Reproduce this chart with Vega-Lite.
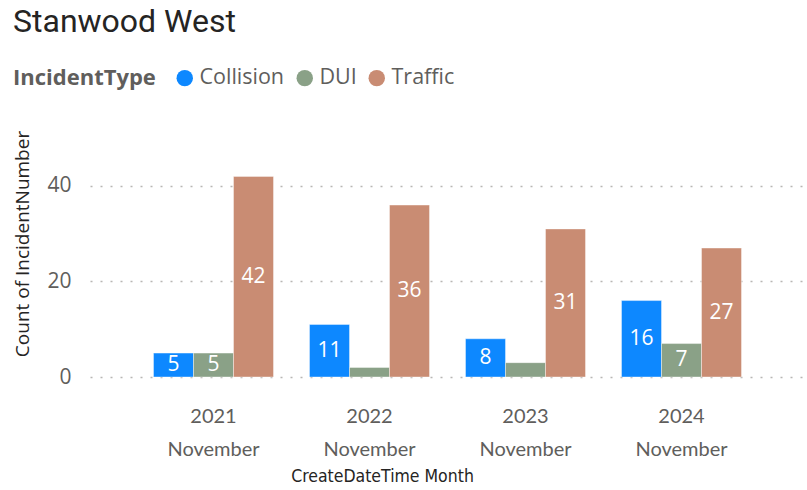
{
  "$schema": "https://vega.github.io/schema/vega-lite/v6.json",
  "width": 715,
  "height": 267,
  "autosize": {"type": "none"},
  "padding": {"left": 90, "top": 110, "right": 2, "bottom": 113},
  "background": "white",
  "title": {
    "text": "Stanwood West",
    "anchor": "start",
    "frame": "group",
    "dx": -77,
    "offset": 28,
    "font": "Roboto",
    "fontSize": 32,
    "fontWeight": "normal",
    "color": "#252423"
  },
  "data": {
    "values": [
      {"month": "2021 November", "type": "Collision", "count": 5},
      {"month": "2021 November", "type": "DUI", "count": 5},
      {"month": "2021 November", "type": "Traffic", "count": 42},
      {"month": "2022 November", "type": "Collision", "count": 11},
      {"month": "2022 November", "type": "DUI", "count": 2},
      {"month": "2022 November", "type": "Traffic", "count": 36},
      {"month": "2023 November", "type": "Collision", "count": 8},
      {"month": "2023 November", "type": "DUI", "count": 3},
      {"month": "2023 November", "type": "Traffic", "count": 31},
      {"month": "2024 November", "type": "Collision", "count": 16},
      {"month": "2024 November", "type": "DUI", "count": 7},
      {"month": "2024 November", "type": "Traffic", "count": 27}
    ]
  },
  "encoding": {
    "x": {
      "field": "month",
      "type": "nominal",
      "sort": null,
      "scale": {"paddingInner": 0.2308, "paddingOuter": 0.407},
      "axis": {
        "labelAngle": 0,
        "labelExpr": "split(datum.label, ' ')",
        "domain": false,
        "ticks": false,
        "labelPadding": 29,
        "labelFont": "Lato",
        "labelFontSize": 20,
        "labelLineHeight": 33,
        "labelColor": "#605E5C",
        "title": "CreateDateTime Month",
        "titleFont": "Liberation Sans Narrow, DejaVu Sans Condensed",
        "titleFontSize": 17.5,
        "titleFontWeight": "normal",
        "titleColor": "#252423",
        "titleX": 292,
        "titlePadding": 8
      }
    },
    "xOffset": {
      "field": "type",
      "type": "nominal",
      "sort": ["Collision", "DUI", "Traffic"],
      "scale": {"paddingInner": 0, "paddingOuter": 0}
    }
  },
  "layer": [
    {
      "mark": {"type": "bar", "stroke": "white", "strokeOpacity": 0.4, "strokeWidth": 1},
      "encoding": {
        "y": {
          "field": "count",
          "type": "quantitative",
          "scale": {"domain": [0, 55.9], "nice": false},
          "axis": {
            "values": [0, 20, 40],
            "grid": true,
            "gridDash": [2, 8],
            "gridColor": "#B8B6B4",
            "gridWidth": 1.5,
            "domain": false,
            "ticks": false,
            "labelPadding": 19,
            "labelFont": "Open Sans",
            "labelFontSize": 21,
            "labelColor": "#605E5C",
            "title": "Count of IncidentNumber",
            "titleFont": "Open Sans",
            "titleFontSize": 19,
            "titleFontWeight": "normal",
            "titleColor": "#252423",
            "titlePadding": 14
          }
        },
        "color": {
          "field": "type",
          "type": "nominal",
          "scale": {
            "domain": ["Collision", "DUI", "Traffic"],
            "range": ["#0D88FF", "#8AA187", "#C98C73"]
          },
          "legend": {
            "orient": "none",
            "legendX": -77,
            "legendY": -43,
            "direction": "horizontal",
            "title": "IncidentType",
            "titleOrient": "left",
            "titleFont": "Open Sans",
            "titleFontSize": 22,
            "titleFontWeight": "bold",
            "titleColor": "#605E5C",
            "titlePadding": 18,
            "labelFont": "Open Sans",
            "labelFontSize": 21.5,
            "labelColor": "#605E5C",
            "labelOffset": 4,
            "symbolType": "circle",
            "symbolSize": 270,
            "symbolStrokeWidth": 0,
            "symbolOpacity": 1,
            "columnPadding": 9
          }
        }
      }
    },
    {
      "transform": [{"filter": "datum.count >= 5"}],
      "mark": {
        "type": "text",
        "color": "white",
        "font": "Open Sans",
        "fontSize": 21,
        "baseline": "middle",
        "align": "center"
      },
      "encoding": {
        "y": {
          "field": "count",
          "type": "quantitative",
          "scale": {"domain": [0, 111.8], "nice": false},
          "axis": null
        },
        "text": {"field": "count", "type": "quantitative"}
      }
    }
  ],
  "resolve": {"scale": {"y": "independent"}},
  "config": {"view": {"stroke": null}}
}
